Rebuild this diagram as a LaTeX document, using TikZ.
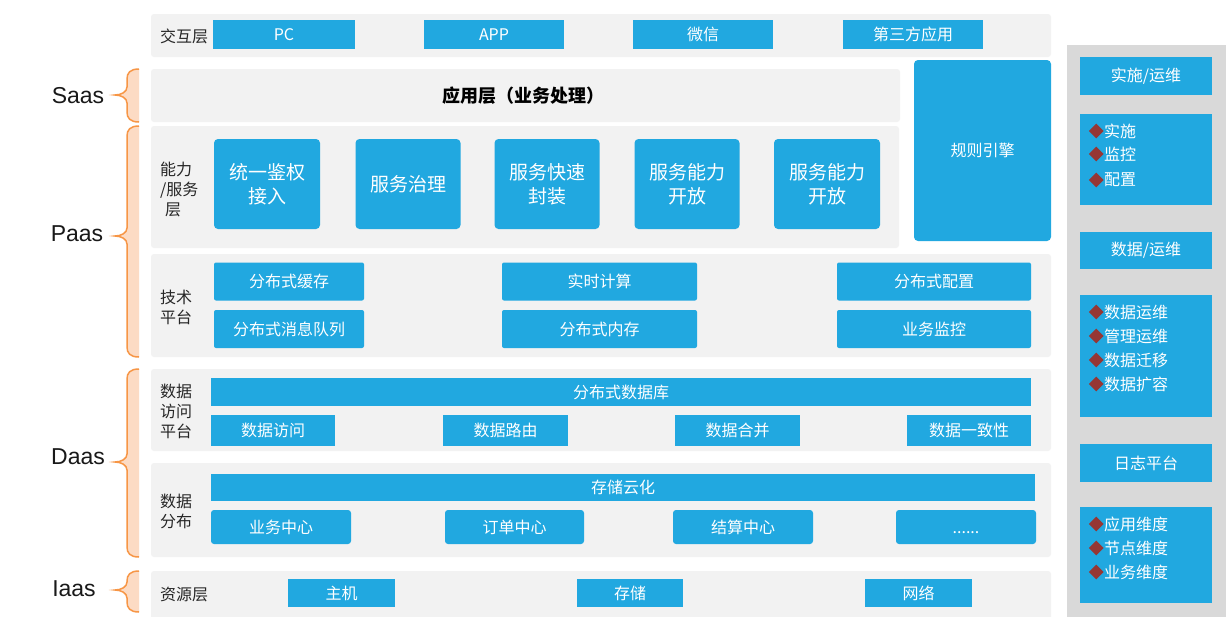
\documentclass[tikz,border=0pt]{standalone}
\usepackage{fontspec}
\usetikzlibrary{shapes.geometric}
\newfontfamily\cjk{Noto Sans CJK SC}
\newfontfamily\latin{Liberation Sans}
\definecolor{boxblue}{RGB}{33,168,224}
\definecolor{panelgray}{RGB}{242,242,242}
\definecolor{sidegray}{RGB}{217,217,217}
\definecolor{braceorange}{RGB}{247,150,70}
\definecolor{bracepeach}{RGB}{252,219,196}
\definecolor{bulletred}{RGB}{150,54,52}
\tikzset{panel/.style={fill=panelgray,rounded corners=3pt,inner sep=0pt},
         box/.style={fill=boxblue,text=white,inner sep=0pt,align=center,font=\cjk\fontsize{16}{19}\selectfont},
         bigbox/.style={box,rounded corners=4pt,font=\cjk\fontsize{19}{24}\selectfont},
         layerlabel/.style={anchor=west,inner sep=0pt,align=left,text=black!85,font=\cjk\fontsize{16}{20}\selectfont},
         xaas/.style={text=black!90,font=\latin\fontsize{23}{26}\selectfont},
         bullet/.style={diamond,fill=bulletred,inner sep=0pt,minimum width=15pt,minimum height=15pt},
         item/.style={anchor=west,inner sep=0pt,text=white,font=\cjk\fontsize{16}{19}\selectfont,label distance=1pt,label={[bullet]left:{}}}}
\newcommand{\layerbrace}[3]{%
  \fill[bracepeach] (139,#1) .. controls (130,#1) and (127,#1+4) .. (127,#1+10) -- (127,#2-8) .. controls (127,#2-3) and (121,#2) .. (115,#2) .. controls (121,#2) and (127,#2+3) .. (127,#2+8) -- (127,#3-10) .. controls (127,#3-4) and (130,#3) .. (139,#3) -- cycle;
  \draw[braceorange,line width=1.5pt] (139,#1) .. controls (130,#1) and (127,#1+4) .. (127,#1+10) -- (127,#2-8) .. controls (127,#2-3) and (121,#2) .. (115,#2) .. controls (121,#2) and (127,#2+3) .. (127,#2+8) -- (127,#3-10) .. controls (127,#3-4) and (130,#3) .. (139,#3);}
\begin{document}
\begin{tikzpicture}[x=1pt,y=-1pt]
    \path[use as bounding box,fill=white] (0,0) rectangle (1226,616);

    \node[xaas](saas)at(78,96){Saas};
    \node[xaas](paas)at(77,234){Paas};
    \node[xaas](daas)at(78,457){Daas};
    \node[xaas](iaas)at(74,589){Iaas};
    \layerbrace{69}{95}{122}
    \layerbrace{126}{236}{357}
    \layerbrace{369}{462}{557}
    \layerbrace{571}{590}{612}

    \node[panel, minimum width=900, minimum height=43](iact)at(601,35.5){};
    \node[layerlabel](liact)at(160,36){交互层};
    \node[box, minimum width=142, minimum height=29](pc)at(284,34.5){PC};
    \node[box, minimum width=140, minimum height=29](app)at(494,34.5){APP};
    \node[box, minimum width=140, minimum height=29](wechat)at(703,34.5){微信};
    \node[box, minimum width=140, minimum height=29](third)at(913,34.5){第三方应用};

    \node[panel, minimum width=749, minimum height=53](appl)at(525.5,95.5){};
    \node[font=\cjk\bfseries\fontsize{18}{22}\selectfont](lappl)at(523,96){应用层（业务处理）};
    \node[box, rounded corners=4pt, minimum width=137, minimum height=181](rule)at(982.5,150.5){规则引擎};

    \node[panel, minimum width=748, minimum height=122](capa)at(525,187){};
    \node[layerlabel](lcapa)at(160,189){能力\\/服务\\\hspace{5pt}层};
    \node[bigbox, minimum width=106, minimum height=90](auth)at(267,184){统一鉴权\\接入};
    \node[bigbox, minimum width=105, minimum height=90](gov)at(408,184){服务治理};
    \node[bigbox, minimum width=105, minimum height=90](pack)at(547,184){服务快速\\封装};
    \node[bigbox, minimum width=105, minimum height=90](open1)at(687,184){服务能力\\开放};
    \node[bigbox, minimum width=106, minimum height=90](open2)at(827,184){服务能力\\开放};

    \node[panel, minimum width=900, minimum height=103](tech)at(601,305.5){};
    \node[layerlabel](ltech)at(160,307.5){技术\\平台};
    \node[box, rounded corners=2pt, minimum width=150, minimum height=38](cache)at(289,281.5){分布式缓存};
    \node[box, rounded corners=2pt, minimum width=150, minimum height=38](mq)at(289,329){分布式消息队列};
    \node[box, rounded corners=2pt, minimum width=195, minimum height=38](rt)at(599.5,281.5){实时计算};
    \node[box, rounded corners=2pt, minimum width=195, minimum height=38](mem)at(599.5,329){分布式内存};
    \node[box, rounded corners=2pt, minimum width=194, minimum height=38](conf)at(934,281.5){分布式配置};
    \node[box, rounded corners=2pt, minimum width=194, minimum height=38](mon)at(934,329){业务监控};

    \node[panel, minimum width=900, minimum height=82](dacc)at(601,410){};
    \node[layerlabel](ldacc)at(160,411){数据\\访问\\平台};
    \node[box, minimum width=820, minimum height=28](ddb)at(621,392){分布式数据库};
    \node[box, minimum width=124, minimum height=31](dvisit)at(273,430.5){数据访问};
    \node[box, minimum width=125, minimum height=31](droute)at(505.5,430.5){数据路由};
    \node[box, minimum width=125, minimum height=31](dmerge)at(737.5,430.5){数据合并};
    \node[box, minimum width=124, minimum height=31](dcons)at(969,430.5){数据一致性};

    \node[panel, minimum width=900, minimum height=94](ddis)at(601,510){};
    \node[layerlabel](lddis)at(160,511.5){数据\\分布};
    \node[box, minimum width=824, minimum height=27](cloud)at(623,487.5){存储云化};
    \node[box, rounded corners=3pt, minimum width=140, minimum height=34](biz)at(281,527){业务中心};
    \node[box, rounded corners=3pt, minimum width=139, minimum height=34](order)at(514.5,527){订单中心};
    \node[box, rounded corners=3pt, minimum width=140, minimum height=34](settle)at(743,527){结算中心};
    \node[box, rounded corners=3pt, minimum width=140, minimum height=34, text height=14pt, text depth=2pt](more)at(966,527){......};

    \node[panel, minimum width=900, minimum height=50](res)at(601,596){};
    \node[layerlabel](lres)at(160,595){资源层};
    \node[box, minimum width=107, minimum height=28](host)at(341.5,593){主机};
    \node[box, minimum width=106, minimum height=28](store)at(630,593){存储};
    \node[box, minimum width=107, minimum height=28](net)at(918.5,593){网络};

    \node[fill=sidegray, inner sep=0pt, minimum width=159, minimum height=576](side)at(1146.5,333){};
    \node[box, minimum width=132, minimum height=38](ops)at(1146,76){实施/运维};
    \node[box, minimum width=132, minimum height=91](opslist)at(1146,159.5){};
    \node[item](impl)at(1104,131){实施};
    \node[item](watch)at(1104,154){监控};
    \node[item](setup)at(1104,180){配置};
    \node[box, minimum width=132, minimum height=37](dops)at(1146,250.5){数据/运维};
    \node[box, minimum width=132, minimum height=122](dopslist)at(1146,356){};
    \node[item](dwork)at(1104,312){数据运维};
    \node[item](mwork)at(1104,336){管理运维};
    \node[item](dmove)at(1104,360){数据迁移};
    \node[item](dgrow)at(1104,384){数据扩容};
    \node[box, minimum width=132, minimum height=38](log)at(1146,463){日志平台};
    \node[box, minimum width=132, minimum height=96](loglist)at(1146,555){};
    \node[item](appdim)at(1104,524){应用维度};
    \node[item](nodedim)at(1104,548){节点维度};
    \node[item](bizdim)at(1104,572){业务维度};
\end{tikzpicture}
\end{document}
